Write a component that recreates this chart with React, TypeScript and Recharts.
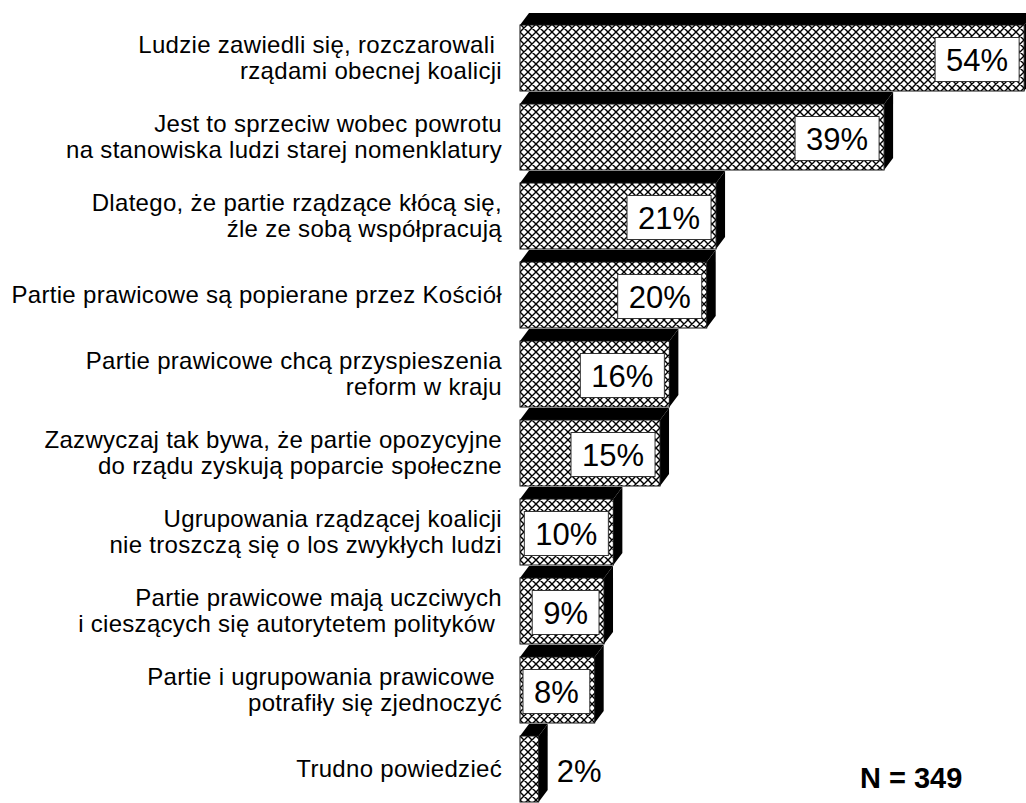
import { BarChart, Bar, XAxis, YAxis, LabelList } from 'recharts'

const CATEGORIES = [
  'Ludzie zawiedli się, rozczarowali \nrządami obecnej koalicji',
  'Jest to sprzeciw wobec powrotu\nna stanowiska ludzi starej nomenklatury',
  'Dlatego, że partie rządzące kłócą się,\nźle ze sobą współpracują',
  'Partie prawicowe są popierane przez Kościół',
  'Partie prawicowe chcą przyspieszenia\nreform w kraju',
  'Zazwyczaj tak bywa, że partie opozycyjne\ndo rządu zyskują poparcie społeczne',
  'Ugrupowania rządzącej koalicji\nnie troszczą się o los zwykłych ludzi',
  'Partie prawicowe mają uczciwych\ni cieszących się autorytetem polityków ',
  'Partie i ugrupowania prawicowe \npotrafiły się zjednoczyć',
  'Trudno powiedzieć',
]

const VALUES = [54, 39, 21, 20, 16, 15, 10, 9, 8, 2]

const NOTE = 'N = 349'

const data = CATEGORIES.map((name, i) => ({ name, value: VALUES[i] }))

const FONT = '"Liberation Sans", Arial, sans-serif'
const DEPTH_X = 9
const DEPTH_Y = 12

function Bar3D(props: any) {
  const { x, y, width, height } = props
  const top = y + DEPTH_Y
  const bottom = y + height - 1
  const right = x + width
  return (
    <g>
      <polygon
        points={`${x},${top} ${x + DEPTH_X},${y} ${right + DEPTH_X},${y} ${right},${top}`}
        fill="#000"
      />
      <polygon
        points={`${right},${top} ${right + DEPTH_X},${y} ${right + DEPTH_X},${bottom - DEPTH_Y} ${right},${bottom}`}
        fill="#000"
      />
      <rect
        x={x}
        y={top}
        width={width}
        height={bottom - top}
        fill="url(#hatch)"
        stroke="#111"
        strokeWidth={1}
      />
    </g>
  )
}

function ValueLabel(props: any) {
  const { x, y, width, height, value } = props
  const fs = 31
  const text = `${value}%`
  const cy = y + DEPTH_Y + (height - DEPTH_Y) / 2
  const tw = (String(value).length * 0.556 + 0.889) * fs
  const boxW = tw + 22
  const boxH = 44
  if (boxW > width) {
    return (
      <text
        x={x + width + DEPTH_X + 9}
        y={cy + 12}
        fontSize={fs}
        fontFamily={FONT}
        fill="#000"
      >
        {text}
      </text>
    )
  }
  const boxX = Math.max(x + 3, x + width - 5 - boxW)
  return (
    <g>
      <rect
        x={boxX}
        y={cy - boxH / 2 + 1}
        width={boxW}
        height={boxH}
        fill="#fff"
        stroke="#333"
        strokeWidth={1}
      />
      <text
        x={boxX + boxW / 2}
        y={cy + 12}
        textAnchor="middle"
        fontSize={fs}
        fontFamily={FONT}
        fill="#000"
      >
        {text}
      </text>
    </g>
  )
}

function CategoryTick(props: any) {
  const { x, y, payload } = props
  const lines = String(payload.value).split('\n')
  const cy = y + 6
  return (
    <g>
      {lines.map((line, i) => (
        <text
          key={i}
          x={x - 10}
          y={cy + (i - (lines.length - 1) / 2) * 26 + 7}
          textAnchor="end"
          fontSize={24}
          letterSpacing={0.3}
          fontFamily={FONT}
          fill="#000"
          style={{ whiteSpace: 'pre' }}
        >
          {line}
        </text>
      ))}
    </g>
  )
}

export default function App() {
  return (
    <div style={{ position: 'absolute', left: 0, top: 0, width: 1026, height: 803, background: '#fff', overflow: 'hidden' }}>
      <BarChart
        width={1026}
        height={803}
        data={data}
        layout="vertical"
        margin={{ top: 13, right: 0, bottom: 0, left: 0 }}
        barCategoryGap={0}
      >
        <defs>
          <pattern id="hatch" patternUnits="userSpaceOnUse" width={8} height={8}>
            <rect width={8} height={8} fill="#fff" />
            <path
              d="M0,0 L8,8 M8,0 L0,8 M-1,7 L1,9 M7,-1 L9,1 M-1,1 L1,-1 M7,9 L9,7"
              stroke="#000"
              strokeWidth={1.4}
            />
          </pattern>
        </defs>
        <XAxis type="number" hide domain={[0, 54.2]} />
        <YAxis
          type="category"
          dataKey="name"
          width={520}
          axisLine={false}
          tickLine={false}
          tick={<CategoryTick />}
          interval={0}
        />
        <Bar dataKey="value" shape={<Bar3D />} isAnimationActive={false}>
          <LabelList dataKey="value" content={<ValueLabel />} />
        </Bar>
      </BarChart>
      <div
        style={{
          position: 'absolute',
          left: 860,
          top: 764,
          fontFamily: FONT,
          fontWeight: 'bold',
          fontSize: 29,
          lineHeight: '29px',
          whiteSpace: 'nowrap',
        }}
      >
        {NOTE}
      </div>
    </div>
  )
}
